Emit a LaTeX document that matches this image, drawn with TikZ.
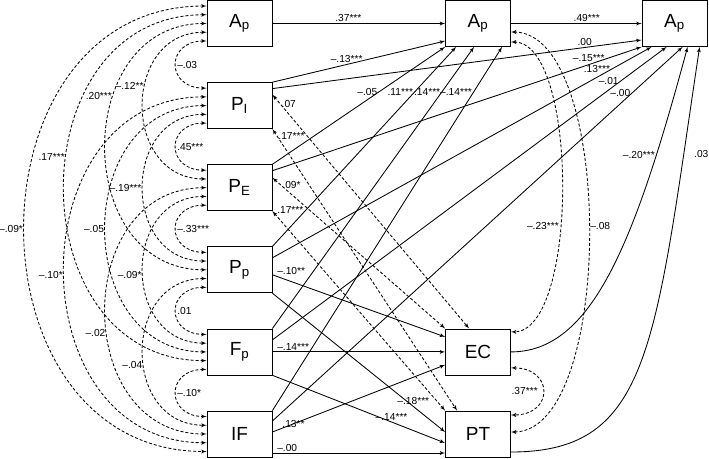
\documentclass[tikz,border=0pt]{standalone}
\usepackage{fontspec}
\setmainfont{Liberation Sans}
\usepackage{tikz}
\usetikzlibrary{shapes,arrows}
\tikzstyle{var} = [draw, line width=0.8pt, minimum width=65pt, minimum height=46pt, inner sep=0pt, font=\fontsize{19}{19}\selectfont]
\tikzstyle{reg} = [draw, line width=0.85pt, -latex']
\tikzstyle{cov} = [draw, line width=0.85pt, densely dashed, latex'-latex']
\tikzstyle{est} = [font=\fontsize{10.2}{10}\selectfont, inner sep=1pt]

\begin{document}
\begin{tikzpicture}[x=1pt, y=-1pt]
\useasboundingbox (0, 0) rectangle (709, 458);
\node [var] at (239.5, 23.5) (Ap1) {A\textsubscript{p}};
\node [var] at (239.5, 105.6) (PI) {P\textsubscript{I}};
\node [var] at (239.5, 187.7) (PE) {P\textsubscript{E}};
\node [var] at (239.5, 269.8) (Pp) {P\textsubscript{p}};
\node [var] at (239.5, 351.9) (Fp) {F\textsubscript{p}};
\node [var] at (239.5, 434) (IF) {IF};
\node [var] at (478, 23.5) (Ap2) {A\textsubscript{p}};
\node [var] at (674.5, 23.5) (Ap3) {A\textsubscript{p}};
\node [var] at (478, 351.9) (EC) {EC};
\node [var] at (478, 434) (PT) {PT};

\path [reg] (Ap1) -- node [est, pos=0.44, above] {.37***} (Ap2);
\path [reg] (Ap2) -- node [est, pos=0.58, above] {.49***} (Ap3);

\path [reg] (PI.north east) -- node [est, pos=0.43, above] {--.13***} ([yshift=-17.5pt]Ap2.west);
\path [reg] ([yshift=17pt]PI.east) -- node [est, pos=0.846, above] {.00} ([yshift=-16.5pt]Ap3.west);

\path [reg] (PE.north east) -- node [est, pos=0.615, anchor=east] {--.05} (Ap2.south west);
\path [reg] ([yshift=17pt]PE.east) -- node [est, pos=0.857, above=2pt] {--.15***} (Ap3.south west);

\path [reg] (Pp.north east) -- node [est, pos=0.773, anchor=east] {.11***} ([xshift=11pt]Ap2.south west);
\path [reg] ([yshift=12pt]Pp.east) -- node [est, pos=0.894, anchor=east] {.13***} ([xshift=10pt]Ap3.south west);
\path [reg] ([yshift=-5pt]Pp.east) -- node [est, pos=0.02, anchor=south west] {--.10**} ([yshift=15pt]EC.west);
\path [reg] (Pp.south east) -- node [est, pos=0.816, above] {--.18***} ([yshift=2pt]PT.west);

\path [reg] (Fp.north east) -- node [est, pos=0.839, anchor=east] {.14***} ([xshift=29pt]Ap2.south west);
\path [reg] ([yshift=12pt]Fp.east) -- node [est, pos=0.882, anchor=east] {--.01} ([xshift=25pt]Ap3.south west);
\path [reg] (Fp.east) -- node [est, pos=0.02, anchor=south west] {--.14***} (EC.west);
\path [reg] (Fp.south east) -- node [est, pos=0.69, above] {--.14***} ([yshift=-9pt]PT.west);

\path [reg] (IF.north east) -- node [est, pos=0.875, anchor=east] {--.14***} ([xshift=57pt]Ap2.south west);
\path [reg] ([yshift=13pt]IF.east) -- node [est, pos=0.876, anchor=east] {--.00} ([xshift=41pt]Ap3.south west);
\path [reg] ([yshift=2pt]IF.east) -- node [est, pos=0.05, anchor=south west] {.13**} ([yshift=-13pt]EC.west);
\path [reg] ([yshift=-19pt]IF.east) -- node [est, pos=0.02, anchor=south west] {--.00} ([yshift=-19pt]PT.west);

\path [reg] (EC.east) .. controls +(80, 0) and +(-54, 200) .. node [est, pos=0.8, anchor=east] {--.20***} ([xshift=46pt]Ap3.south west);
\path [reg] ([yshift=-18pt]PT.east) .. controls +(140, 0) and +(-45, 300) .. node [est, pos=0.87, anchor=west, xshift=9pt] {.03} ([xshift=58pt]Ap3.south west);

\path [cov] ([yshift=11pt]PI.east) -- node [est, pos=0.04, anchor=west] {.07} ([xshift=24pt]EC.north west);
\path [cov] (PI.south east) -- node [est, pos=0.025, anchor=west] {.17***} ([xshift=12pt]PT.north west);
\path [cov] ([yshift=10pt]PE.east) -- node [est, pos=0.05, anchor=west] {.09*} (EC.north west);
\path [cov] (PE.south east) -- node [est, pos=0.02, anchor=south west] {.17***} (PT.north west);

\path [cov] ([yshift=-18.5pt]Ap2.east) .. controls +(68, 0) and +(68, 0) .. node [est, pos=0.59, anchor=east] {--.23***} ([yshift=20pt]EC.east);
\path [cov] ([yshift=-8.5pt]Ap2.east) .. controls +(104, 0) and +(104, 0) .. node [est, pos=0.49, anchor=west] {--.08} ([yshift=2pt]PT.east);
\path [cov] ([yshift=-16pt]EC.east) .. controls +(43, 0) and +(43, 0) .. node [est, pos=0.5, anchor=east, xshift=-4pt] {.37***} ([yshift=19pt]PT.east);

\path [cov] ([yshift=-17.5pt]Ap1.west) .. controls +(-41, 0) and +(-41, 0) .. node [est, pos=0.5, anchor=west] {--.03} ([yshift=17.5pt]PI.west);
\path [cov] ([yshift=-17.5pt]PI.west) .. controls +(-41, 0) and +(-41, 0) .. node [est, pos=0.5, anchor=west] {.45***} ([yshift=17.5pt]PE.west);
\path [cov] ([yshift=-17.5pt]PE.west) .. controls +(-41, 0) and +(-41, 0) .. node [est, pos=0.5, anchor=west] {--.33***} ([yshift=17.5pt]Pp.west);
\path [cov] ([yshift=-17.5pt]Pp.west) .. controls +(-41, 0) and +(-41, 0) .. node [est, pos=0.5, anchor=west] {.01} ([yshift=17.5pt]Fp.west);
\path [cov] ([yshift=-17.5pt]Fp.west) .. controls +(-41, 0) and +(-41, 0) .. node [est, pos=0.5, anchor=west] {--.10*} ([yshift=17.5pt]IF.west);

\path [cov] ([yshift=-8.75pt]Ap1.west) .. controls +(-85, 0) and +(-85, 0) .. node [est, pos=0.41, anchor=east] {--.12**} ([yshift=8.75pt]PE.west);
\path [cov] ([yshift=-8.75pt]PI.west) .. controls +(-85, 0) and +(-85, 0) .. node [est, pos=0.5, anchor=east] {--.19***} ([yshift=8.75pt]Pp.west);
\path [cov] ([yshift=-8.75pt]PE.west) .. controls +(-85, 0) and +(-85, 0) .. node [est, pos=0.525, anchor=east] {--.09*} ([yshift=8.75pt]Fp.west);
\path [cov] ([yshift=-8.75pt]Pp.west) .. controls +(-85, 0) and +(-85, 0) .. node [est, pos=0.56, anchor=east] {--.04} ([yshift=8.75pt]IF.west);

\path [cov] (Ap1.west) .. controls +(-135, 0) and +(-135, 0) .. node [est, pos=0.36, anchor=east] {.20***} (Pp.west);
\path [cov] (PI.west) .. controls +(-135, 0) and +(-135, 0) .. node [est, pos=0.5, anchor=east] {--.05} (Fp.west);
\path [cov] (PE.west) .. controls +(-135, 0) and +(-135, 0) .. node [est, pos=0.56, anchor=east] {--.02} (IF.west);

\path [cov] ([yshift=8.75pt]Ap1.west) .. controls +(-190, 0) and +(-190, 0) .. node [est, pos=0.44, anchor=east] {.17***} ([yshift=-8.75pt]Fp.west);
\path [cov] ([yshift=8.75pt]PI.west) .. controls +(-190, 0) and +(-190, 0) .. node [est, pos=0.51, anchor=east] {--.10*} ([yshift=-8.75pt]IF.west);

\path [cov] ([yshift=17.5pt]Ap1.west) .. controls +(-243, 0) and +(-243, 0) .. node [est, pos=0.5, anchor=east] {--.09*} ([yshift=-17.5pt]IF.west);
\end{tikzpicture}
\end{document}
